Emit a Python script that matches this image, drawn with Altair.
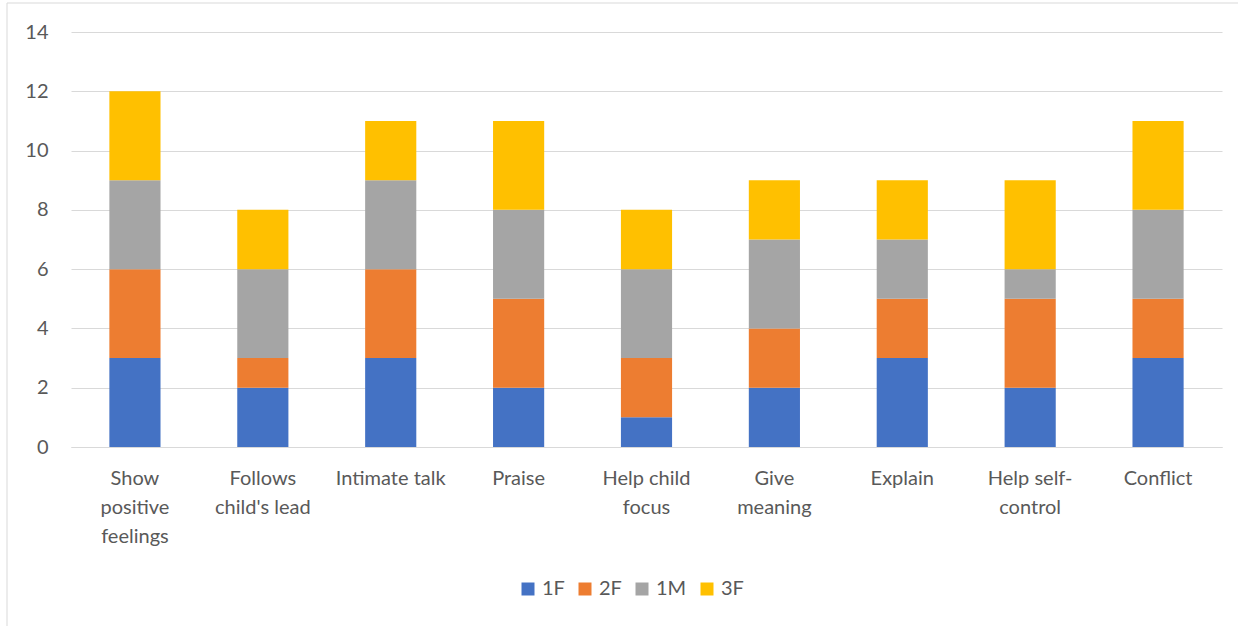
import altair as alt
import pandas as pd

categories = [
    "Show\npositive\nfeelings",
    "Follows\nchild's lead",
    "Intimate talk",
    "Praise",
    "Help child\nfocus",
    "Give\nmeaning",
    "Explain",
    "Help self-\ncontrol",
    "Conflict",
]
series = ["1F", "2F", "1M", "3F"]
colors = ["#4472C4", "#ED7D31", "#A5A5A5", "#FFC000"]
v_1F = [3, 2, 3, 2, 1, 2, 3, 2, 3]
v_2F = [3, 1, 3, 3, 2, 2, 2, 3, 2]
v_1M = [3, 3, 3, 3, 3, 3, 2, 1, 3]
v_3F = [3, 2, 2, 3, 2, 2, 2, 3, 3]
y_ticks = [0, 2, 4, 6, 8, 10, 12, 14]

rows = []
for si, (s, vals) in enumerate(zip(series, [v_1F, v_2F, v_1M, v_3F])):
    for c, v in zip(categories, vals):
        rows.append({"category": c, "series": s, "value": v, "idx": si})
df = pd.DataFrame(rows)

FONT = "Lato"
TXT = "#595959"
FS = 20

bars = alt.Chart(df).mark_bar().encode(
    x=alt.X(
        "category:N",
        sort=categories,
        scale=alt.Scale(paddingInner=0.6, paddingOuter=0.3),
        axis=alt.Axis(
            title=None,
            labelAngle=0,
            labelExpr="split(datum.label, '\\n')",
            labelFont=FONT,
            labelFontSize=FS,
            labelColor=TXT,
            labelBaseline="top",
            labelPadding=21,
            labelLineHeight=29,
            ticks=False,
            grid=False,
            domain=True,
            domainColor="#D9D9D9",
            domainWidth=1,
        ),
    ),
    y=alt.Y(
        "value:Q",
        stack="zero",
        scale=alt.Scale(domain=[0, 14], nice=False),
        axis=alt.Axis(
            title=None,
            values=y_ticks,
            grid=True,
            gridColor="#D9D9D9",
            gridWidth=1,
            domain=False,
            ticks=False,
            labelFont=FONT,
            labelFontSize=FS,
            labelColor=TXT,
            labelPadding=23,
        ),
    ),
    color=alt.Color(
        "series:N",
        scale=alt.Scale(domain=series, range=colors),
        legend=alt.Legend(
            title=None,
            orient="none",
            legendX=447,
            legendY=547,
            direction="horizontal",
            symbolType="square",
            symbolSize=169,
            symbolStrokeWidth=0,
            labelFont=FONT,
            labelFontSize=FS,
            labelColor=TXT,
            labelOffset=4,
            columnPadding=10,
        ),
    ),
    order=alt.Order("idx:Q", sort="ascending"),
)

one = pd.DataFrame({"a": [0]})
frame_left = alt.Chart(one).mark_rule(color="#D9D9D9", strokeWidth=1, clip=False).encode(
    x=alt.value(-64), y=alt.value(-29), y2=alt.value(700)
)
frame_top = alt.Chart(one).mark_rule(color="#D9D9D9", strokeWidth=1, clip=False).encode(
    x=alt.value(-64), x2=alt.value(1300), y=alt.value(-29)
)

chart = alt.layer(frame_left, frame_top, bars).properties(
    width=1151,
    height=415,
    autosize=alt.AutoSizeParams(type="none"),
    padding={"left": 71, "top": 32, "right": 16, "bottom": 179},
).configure(
    background="white",
    view=alt.ViewConfig(strokeWidth=0, stroke="transparent"),
)

chart.save("out.html", embed_options={"renderer": "svg", "actions": False})
